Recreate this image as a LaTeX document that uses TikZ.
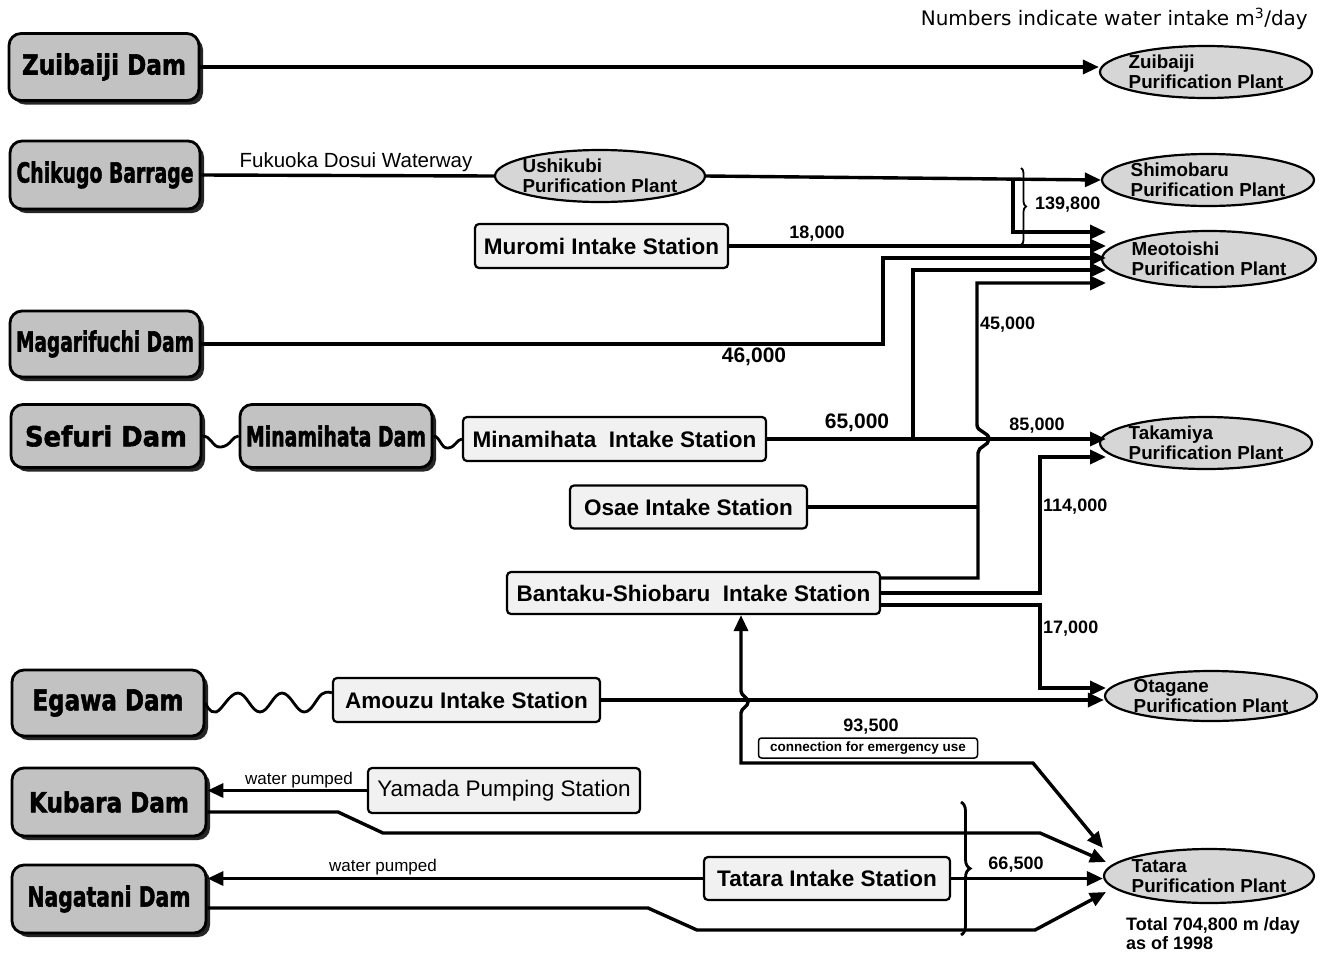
\documentclass[tikz,border=0pt]{standalone}
\usepackage{fontspec}
\setmainfont{Liberation Sans}
\newfontfamily\damfont{DejaVu Sans}[BoldFeatures={FakeBold=2}]
\newfontfamily\notefont{DejaVu Sans}
\usepackage{graphicx}
\usetikzlibrary{arrows.meta,shapes.geometric,shadows,decorations.pathreplacing,calc}
\definecolor{damgray}{HTML}{C2C2C2}
\definecolor{stfill}{HTML}{F1F1F1}
\definecolor{plfill}{HTML}{D6D6D6}
\newcommand\damlbl[2]{\resizebox{#1pt}{21pt}{\damfont\bfseries #2}}
\begin{document}
\begin{tikzpicture}[x=1pt,y=-1pt,
 dam/.style={draw, line width=2.8pt, rounded corners=12pt, fill=damgray, inner sep=0pt,
   drop shadow={shadow xshift=4pt,shadow yshift=-4pt,fill=black!85,opacity=1}},
 station/.style={draw, line width=2.2pt, rounded corners=4pt, fill=stfill, inner sep=0pt,
   minimum height=44pt, font=\bfseries\fontsize{22.5}{26}\selectfont},
 plant/.style={draw, ellipse, line width=2.2pt, fill=plfill, inner sep=0pt,
   minimum width=212pt, minimum height=52pt},
 ptext/.style={align=left, font=\bfseries\fontsize{18.8}{20}\selectfont, inner sep=0pt},
 conn/.style={line width=3.4pt, line join=miter},
 arr/.style={conn, -{Triangle[length=16pt,width=14pt]}},
 wave/.style={line width=2.8pt},
 num/.style={font=\bfseries\fontsize{18}{20}\selectfont, inner sep=0pt},
 bignum/.style={font=\bfseries\fontsize{21}{23}\selectfont, inner sep=0pt},
 plain/.style={font=\fontsize{17}{19}\selectfont, inner sep=0pt},
 bracestyle/.style={decorate, line width=2.8pt},
]
\fill[white] (0,0) rectangle (1322,954);
\useasboundingbox (0,0) rectangle (1322,954);

% ---------- dams ----------
\node[dam, minimum width=190pt, minimum height=67pt] (zui) at (104,67) {\damlbl{164}{Zuibaiji Dam}};
\node[dam, minimum width=190pt, minimum height=68pt] (chi) at (105,175) {\damlbl{177}{Chikugo Barrage}};
\node[dam, minimum width=190pt, minimum height=66pt] (mag) at (105,344) {\damlbl{178}{Magarifuchi Dam}};
\node[dam, minimum width=190pt, minimum height=63pt] (sef) at (106,436) {\damlbl{162}{Sefuri Dam}};
\node[dam, minimum width=192pt, minimum height=63pt] (mdam) at (336,436) {\damlbl{180}{Minamihata Dam}};
\node[dam, minimum width=192pt, minimum height=66pt] (ega) at (108,703) {\damlbl{151}{Egawa Dam}};
\node[dam, minimum width=194pt, minimum height=68pt] (kub) at (109,802) {\damlbl{160}{Kubara Dam}};
\node[dam, minimum width=194pt, minimum height=68pt] (nag) at (109,899) {\damlbl{163}{Nagatani Dam}};

% ---------- stations ----------
\node[station, minimum width=253pt] (mur) at (601.5,246) {Muromi Intake Station};
\node[station, minimum width=303pt] (mini) at (614.5,439) {Minamihata\ \ Intake Station};
\node[station, minimum width=237pt, minimum height=43pt] (osa) at (688.5,507) {Osae Intake Station};
\node[station, minimum width=373pt, minimum height=42pt] (ban) at (693.5,593) {Bantaku-Shiobaru\ \ Intake Station};
\node[station, minimum width=267pt] (amo) at (466.5,700) {Amouzu Intake Station};
\node[station, minimum width=272pt, minimum height=45pt, font=\fontsize{22.5}{26}\selectfont] (yam) at (504,790.5) {Yamada Pumping Station};
\node[station, minimum width=246pt, minimum height=43pt] (tat) at (827,878.5) {Tatara Intake Station};

% ---------- plants ----------
\node[plant, label={[ptext]center:{Zuibaiji\\Purification Plant}}] (zuiP) at (1206,72) {};
\node[plant, minimum width=210pt, label={[ptext]center:{Ushikubi\\Purification Plant}}] (ushP) at (600,176) {};
\node[plant, label={[ptext]center:{Shimobaru\\Purification Plant}}] (shiP) at (1208,180) {};
\node[plant, minimum width=214pt, minimum height=56pt, label={[ptext]center:{Meotoishi\\Purification Plant}}] (meoP) at (1209,259) {};
\node[plant, label={[ptext]center:{Takamiya\\Purification Plant}}] (takP) at (1206,443) {};
\node[plant, minimum height=50pt, label={[ptext]center:{Otagane\\Purification Plant}}] (otaP) at (1211,696) {};
\node[plant, minimum width=210pt, minimum height=54pt, label={[ptext]center:{Tatara\\Purification Plant}}] (tatP) at (1209,876) {};

% ---------- arrow end coordinates ----------
\coordinate (m1) at (1106,232);
\coordinate (m2) at (1106,246);
\coordinate (m3) at (1106,258);
\coordinate (m4) at (1106,270);
\coordinate (m5) at (1106,283);
\coordinate (t1) at (1106,439);
\coordinate (t2) at (1106,457);
\coordinate (o1) at (1106,688);
\coordinate (k0) at (1103,848);
\coordinate (k1) at (1106,862);
\coordinate (k3) at (1106,892);
\coordinate (b1) at (1013,179);
\coordinate (b2) at (913,439);
\coordinate (b3) at (978,507);
\coordinate (ex) at (741,763);

% ---------- connectors ----------
\draw[arr] (zui.east) -- (zui.east -| zuiP.west);
\draw[conn] (chi.east) -- (ushP.west);
\draw[arr] (ushP.east) -- (shiP.west);
\draw[arr] (b1) |- (m1);
\draw[arr] (mur.east) -- (m2);
\draw[arr] (mag.east) -- (883,344) -- (883,258) -- (m3);
\draw[arr] (mini.east) -- (t1);
\draw[arr] (b2) -- (913,270) -- (m4);
\draw[conn] (osa.east) -- (b3);
\draw[arr] ([yshift=15pt]ban.east) -- (978,578) -- (978,453)
   .. controls (978,446) and (989,446) .. (989,439)
   .. controls (989,432) and (977,432) .. (977,425) -- (977,283) -- (m5);
\draw[arr] (ban.east) -- (1040,593) -- (1040,457) -- (t2);
\draw[arr] ([yshift=-12pt]ban.east) -- (1040,605) -- (1040,688) -- (o1);
\draw[arr] (amo.east) -- (amo.east -| otaP.west);
\draw[conn, {Triangle[length=16pt,width=14pt]}-{Triangle[length=16pt,width=14pt]}]
   (ex |- ban.south) -- (741,691)
   .. controls (741,696) and (748,697) .. (748,702)
   .. controls (748,707) and (741,708) .. (741,713)
   -- (ex) -- (1033,763) -- (k0);
\draw[arr] (yam.west) -- (yam.west -| kub.east);
\draw[arr] ([yshift=-10pt]kub.east) -- (338,812) -- (383,833) -- (1040,833) -- (k1);
\draw[arr] (tat.west) -- (tat.west -| nag.east);
\draw[arr] ([yshift=-9pt]nag.east) -- (648,908) -- (697,930) -- (1035,930) -- (k3);
\draw[arr] (tat.east) -- (tat.east -| tatP.west);

% ---------- wavy links ----------
\draw[wave] (sef.east) .. controls (212,436) and (212,448) .. (221,447)
   .. controls (231,446) and (232,436) .. (mdam.west);
\draw[wave] (mdam.east) .. controls (440,436) and (441,449) .. (448,448)
   .. controls (456,447) and (456,440) .. (mini.west);
\draw[wave] plot[smooth, tension=0.7] coordinates {(ega.east) (216,712) (238,693) (260,712) (282,693) (304,712) (322,694) ([yshift=7pt]amo.west)};

% ---------- braces ----------
\draw[bracestyle, line width=1.8pt, decoration={brace, amplitude=5pt}] (1021,168) -- (1021,245);
\draw[bracestyle, decoration={brace, amplitude=9pt}] (961,802) -- (961,935);

% ---------- labels ----------
\node[anchor=east, inner sep=0pt, font=\notefont\fontsize{20}{22}\selectfont] (note) at (1308,19) {Numbers indicate water intake m\textsuperscript{3}/day};
\node[font=\fontsize{20.5}{22}\selectfont, inner sep=0pt] (lfuk) at (356,162) {Fukuoka Dosui Waterway};
\node[num] (l18) at (817,234) {18,000};
\node[num, anchor=west] (l139) at (1035,205) {139,800};
\node[bignum] (l46) at (754,357) {46,000};
\node[num, anchor=west] (l45) at (980,325) {45,000};
\node[bignum] (l65) at (857,423) {65,000};
\node[num] (l85) at (1037,426) {85,000};
\node[num, anchor=west] (l114) at (1043,507) {114,000};
\node[num, anchor=west] (l17) at (1043,629) {17,000};
\node[num] (l93) at (871,727) {93,500};
\node[draw, line width=1.5pt, rounded corners=3pt, minimum width=219pt, minimum height=20pt, inner sep=0pt,
   font=\bfseries\fontsize{13.5}{15}\selectfont] (emg) at (868,748) {connection for emergency use};
\node[num] (l66) at (1016,865) {66,500};
\node[plain] (wp1) at (299,780) {water pumped};
\node[plain] (wp2) at (383,867) {water pumped};
\node[anchor=north west, align=left, inner sep=0pt, font=\bfseries\fontsize{18}{19.5}\selectfont] (total) at (1126,917) {Total 704,800 m /day\\as of 1998};
\end{tikzpicture}
\end{document}
